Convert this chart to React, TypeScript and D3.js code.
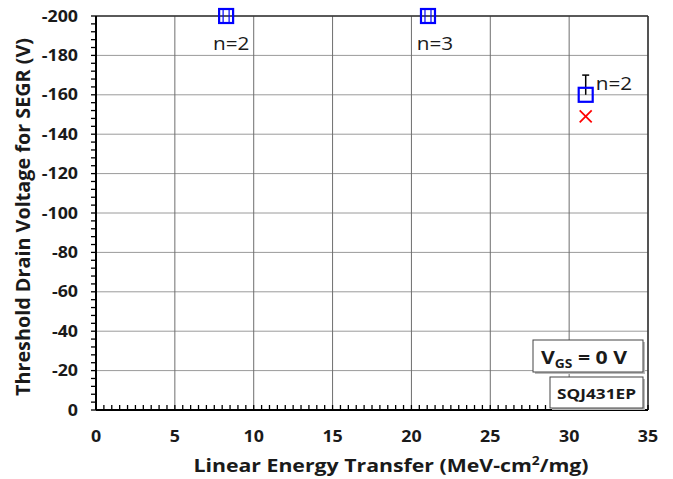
import React from "react";
import * as d3 from "d3";

// Threshold drain voltage for SEGR vs LET
const letValues = [8.25, 21.05, 31.05];
const segrVoltage = [-200, -200, -160];
const sampleLabels = ["n=2", "n=3", "n=2"];
const errorUpper = [null, null, -170];
const failLet = [31.05];
const failVoltage = [-149];

const xTicks = [0, 5, 10, 15, 20, 25, 30, 35];
const yTicks = [0, -20, -40, -60, -80, -100, -120, -140, -160, -180, -200];

const W = 673;
const H = 479;
const M = { left: 96, right: 648, top: 16, bottom: 410 };
const FONT = "'Open Sans', 'Liberation Sans', sans-serif";
const SX = 1.15; // horizontal stretch applied to horizontal text

type TProps = {
  x: number;
  y: number;
  size: number;
  anchor?: "start" | "middle" | "end";
  bold?: boolean;
  children: React.ReactNode;
};

function Txt({ x, y, size, anchor = "start", bold = false, children }: TProps) {
  return (
    <text
      transform={`translate(${x},${y}) scale(${SX},1)`}
      textAnchor={anchor}
      fontFamily={FONT}
      fontWeight={bold ? "bold" : "normal"}
      fontSize={size}
      fill="#1a1a1a"
    >
      {children}
    </text>
  );
}

export default function App() {
  const x = d3.scaleLinear().domain([0, 35]).range([M.left, M.right]);
  const y = d3.scaleLinear().domain([0, -200]).range([M.bottom, M.top]);
  const xMinor = d3.range(0, 35.01, 0.5);
  const yMinor = d3.range(0, -200.01, -4);

  const labelOffsets = [
    { dx: 5, dy: 34, anchor: "middle" as const },
    { dx: 7, dy: 34, anchor: "middle" as const },
    { dx: 10, dy: -5, anchor: "start" as const },
  ];

  return (
    <svg width={W} height={H} style={{ position: "absolute", left: 0, top: 0, background: "#fff" }}>
      {/* grid */}
      {yTicks.filter((t) => t !== 0).map((t) => (
        <line key={"gy" + t} x1={M.left} x2={M.right} y1={y(t)} y2={y(t)} stroke="#9a9a9a" strokeWidth={1} />
      ))}
      {xTicks.filter((t) => t !== 0).map((t) => (
        <line key={"gx" + t} x1={x(t)} x2={x(t)} y1={M.top} y2={M.bottom} stroke="#6e6e6e" strokeWidth={1} />
      ))}
      {/* frame */}
      <line x1={M.left} x2={M.right} y1={M.top} y2={M.top} stroke="#333" strokeWidth={1.5} />
      <line x1={M.right} x2={M.right} y1={M.top} y2={M.bottom} stroke="#333" strokeWidth={1.5} />
      {/* minor ticks */}
      {xMinor.map((v, i) => (
        <line key={"xm" + i} x1={x(v)} x2={x(v)} y1={M.bottom} y2={M.bottom - 5} stroke="#000" strokeWidth={1.3} />
      ))}
      {yMinor.map((v, i) => (
        <line key={"ym" + i} x1={M.left - 5} x2={M.left} y1={y(v)} y2={y(v)} stroke="#000" strokeWidth={1.3} />
      ))}
      {/* axes */}
      <line x1={M.left} x2={M.right} y1={M.bottom} y2={M.bottom} stroke="#000" strokeWidth={2} />
      <line x1={M.left} x2={M.left} y1={M.top} y2={M.bottom} stroke="#000" strokeWidth={2} />
      {/* tick labels */}
      {xTicks.map((t) => (
        <Txt key={"xl" + t} x={x(t)} y={M.bottom + 32} size={15.5} anchor="middle" bold>
          {t}
        </Txt>
      ))}
      {yTicks.map((t) => (
        <Txt key={"yl" + t} x={M.left - 18} y={y(t) + 5.5} size={15.5} anchor="end" bold>
          {t}
        </Txt>
      ))}
      {/* axis titles */}
      <Txt x={(M.left + M.right) / 2 + 19} y={472} size={18.5} anchor="middle" bold>
        Linear Energy Transfer (MeV-cm
        <tspan dy={-7} fontSize={12}>2</tspan>
        <tspan dy={7}>/mg)</tspan>
      </Txt>
      <text
        transform={`translate(30,${(M.top + M.bottom) / 2 + 4}) rotate(-90)`}
        textAnchor="middle"
        fontFamily={FONT}
        fontWeight="bold"
        fontSize={19.8}
        fill="#1a1a1a"
      >
        Threshold Drain Voltage for SEGR (V)
      </text>
      {/* error bars */}
      {letValues.map((v, i) =>
        errorUpper[i] == null ? null : (
          <g key={"eb" + i} stroke="#000" strokeWidth={1.5}>
            <line x1={x(v)} x2={x(v)} y1={y(segrVoltage[i])} y2={y(errorUpper[i] as number)} />
            <line x1={x(v) - 3.5} x2={x(v) + 3.5} y1={y(errorUpper[i] as number)} y2={y(errorUpper[i] as number)} />
          </g>
        )
      )}
      {/* pass markers */}
      {letValues.map((v, i) => (
        <rect key={"pm" + i} x={x(v) - 7} y={y(segrVoltage[i]) - 7} width={14} height={14} fill="none" stroke="#0000ff" strokeWidth={2.2} />
      ))}
      {letValues.slice(0, 2).map((v, i) => (
        <g key={"pi" + i} stroke="#0000ff" strokeWidth={1.2}>
          <line x1={x(v) - 3} x2={x(v) - 3} y1={y(segrVoltage[i]) - 6} y2={y(segrVoltage[i]) + 6} />
          <line x1={x(v) + 3} x2={x(v) + 3} y1={y(segrVoltage[i]) - 6} y2={y(segrVoltage[i]) + 6} />
        </g>
      ))}
      {/* fail markers */}
      {failLet.map((v, i) => (
        <g key={"fm" + i} stroke="#ff0000" strokeWidth={1.8}>
          <line x1={x(v) - 6} x2={x(v) + 6} y1={y(failVoltage[i]) - 6} y2={y(failVoltage[i]) + 6} />
          <line x1={x(v) - 6} x2={x(v) + 6} y1={y(failVoltage[i]) + 6} y2={y(failVoltage[i]) - 6} />
        </g>
      ))}
      {/* sample-count labels */}
      {letValues.map((v, i) => (
        <Txt
          key={"nl" + i}
          x={x(v) + labelOffsets[i].dx}
          y={y(segrVoltage[i]) + labelOffsets[i].dy}
          size={18}
          anchor={labelOffsets[i].anchor}
        >
          {sampleLabels[i]}
        </Txt>
      ))}
      {/* annotation boxes */}
      <rect x={535} y={342} width={110} height={32} fill="#bbb" />
      <rect x={533} y={340} width={110} height={32} fill="#fff" stroke="#444" strokeWidth={1} />
      <Txt x={541} y={364} size={18.5} bold>
        V<tspan fontSize={12} dy={4}>GS</tspan>
        <tspan dy={-4}> = 0 V</tspan>
      </Txt>
      <rect x={552} y={379} width={93} height={31} fill="#bbb" />
      <rect x={550} y={377} width={93} height={31} fill="#fff" stroke="#444" strokeWidth={1} />
      <Txt x={596.5} y={398.5} size={15} anchor="middle" bold>
        SQJ431EP
      </Txt>
    </svg>
  );
}
